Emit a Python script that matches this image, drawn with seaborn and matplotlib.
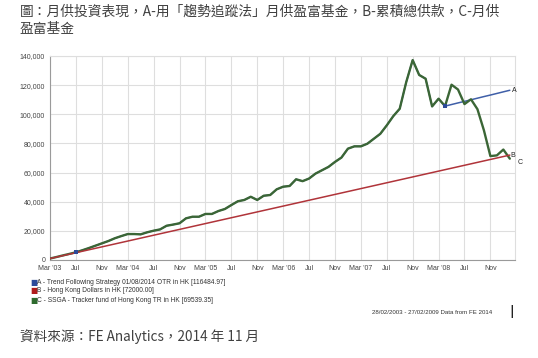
import numpy as np
import matplotlib
matplotlib.use('Agg')
import matplotlib.pyplot as plt
import seaborn as sns

# Month index 0 = Mar '03 ... 71 = Feb '09
months = list(range(72))

tick_pos = [0, 4, 8, 12, 16, 20, 24, 28, 32, 36, 40, 44, 48, 52, 56, 60, 64, 68]
tick_labels = ["Mar '03", 'Jul', 'Nov', "Mar '04", 'Jul', 'Nov', "Mar '05", 'Jul', 'Nov',
               "Mar '06", 'Jul', 'Nov', "Mar '07", 'Jul', 'Nov', "Mar '08", 'Jul', 'Nov']

# B - cumulative contributions (HK$1,000 a month)
b_values = [1000, 2000, 3000, 4000, 5000, 6000, 7000, 8000, 9000, 10000, 11000, 12000,
            13000, 14000, 15000, 16000, 17000, 18000, 19000, 20000, 21000, 22000, 23000, 24000,
            25000, 26000, 27000, 28000, 29000, 30000, 31000, 32000, 33000, 34000, 35000, 36000,
            37000, 38000, 39000, 40000, 41000, 42000, 43000, 44000, 45000, 46000, 47000, 48000,
            49000, 50000, 51000, 52000, 53000, 54000, 55000, 56000, 57000, 58000, 59000, 60000,
            61000, 62000, 63000, 64000, 65000, 66000, 67000, 68000, 69000, 70000, 71000, 72000]

# C - monthly saving into the Tracker Fund
c_values = [1000, 2050, 3150, 4200, 5300, 6700, 8200, 9800, 11400, 13000, 14900, 16400,
            17800, 17800, 17600, 19000, 20100, 21000, 23500, 24300, 25200, 28600, 29700, 29700,
            31600, 31600, 33600, 35000, 37700, 40300, 41200, 43400, 41200, 44100, 44600, 48500,
            50300, 50800, 55400, 54100, 55900, 59300, 61600, 63900, 67300, 70300, 76400, 78000,
            78000, 79800, 83200, 86600, 92400, 98700, 103800, 122000, 137200, 127000, 124400, 105400,
            110700, 105600, 120300, 117000, 107000, 110300, 103500, 89000, 71300, 71800, 75800, 69540]

# A - trend following: starts Jul '03, tracks C until it exits in Apr '08, then holds cash
a_start = 4
a_exit = 61
a_cash = [106700, 107800, 108850, 109950, 111050, 112150, 113200, 114300, 115400, 116485]
a_values = [np.nan] * a_start + c_values[a_start:a_exit + 1] + a_cash

legend_labels = ['A - Trend Following Strategy 01/08/2014 OTR in HK [116484.97]',
                 'B - Hong Kong Dollars in HK [72000.00]',
                 'C - SSGA - Tracker fund of Hong Kong TR in HK [69539.35]']

blue = '#3f5fa8'
red = '#b0343a'
green = '#3b6636'

sns.set_style('white')
plt.rcParams['font.family'] = ['Noto Sans CJK TC', 'DejaVu Sans']

fig = plt.figure(figsize=(5.38, 3.58), dpi=100)
ax = fig.add_axes([50 / 538, 1 - 260 / 358, 465 / 538, 204 / 358])

sns.lineplot(x=months, y=a_values, color=blue, linewidth=1.1, ax=ax, zorder=3)
sns.lineplot(x=months, y=c_values, color=green, linewidth=1.7, ax=ax, zorder=4)
sns.lineplot(x=months, y=b_values, color=red, linewidth=1.1, ax=ax, zorder=5)
sns.scatterplot(x=[months[a_start], months[a_exit]], y=[a_values[a_start], a_values[a_exit]],
                color='#2d4a99', marker='s', s=10, linewidth=0, ax=ax, zorder=6)

# end labels
lab_font = dict(family='Liberation Sans', fontsize=5, color='#222222')
ax.text(months[-1] + 0.4, a_values[-1], 'A', va='center', ha='left', **lab_font)
ax.text(months[-1] + 0.1, b_values[-1], 'B', va='center', ha='left', **lab_font)
ax.text(months[-1] + 1.2, c_values[-1] - 2500, 'C', va='center', ha='left', **lab_font)

ax.set_xlim(0, 71.8)
ax.set_ylim(0, 140000)
ax.set_xticks(tick_pos)
ax.set_xticklabels(tick_labels)
ax.set_yticks(range(0, 140001, 20000))
ax.set_yticklabels([f'{v:,}' for v in range(0, 140001, 20000)])
for lab in ax.get_xticklabels() + ax.get_yticklabels():
    lab.set_family('Liberation Sans')
    lab.set_fontsize(5)
    lab.set_color('#444444')
ax.tick_params(axis='both', length=2.5, width=0.6, color='#888888', pad=1)
ax.grid(True, color='#dedede', linewidth=0.8)
ax.set_axisbelow(True)
for side in ['top', 'right']:
    ax.spines[side].set_color('#dedede')
    ax.spines[side].set_linewidth(0.8)
for side in ['left', 'bottom']:
    ax.spines[side].set_color('#9a9a9a')
    ax.spines[side].set_linewidth(0.8)
ax.set_xlabel('')
ax.set_ylabel('')

# legend rows under the chart
leg_colors = ['#2b4a9b', '#b01c1c', '#2e6b2e']
for i, (lab, col) in enumerate(zip(legend_labels, leg_colors)):
    y = 1 - (282 + 9 * i) / 358
    fig.text(30 / 538, y, '\u25a0', color=col, fontsize=5.5, va='center', ha='left',
             family='DejaVu Sans')
    fig.text(37 / 538, y, lab, color='#333333', fontsize=4.8, va='center', ha='left',
             family='Liberation Sans')

fig.text(492 / 538, 1 - 313 / 358, '28/02/2003 - 27/02/2009 Data from FE 2014',
         color='#333333', fontsize=4.4, va='center', ha='right', family='Liberation Sans')
fig.text(509 / 538, 1 - 312 / 358, '|', color='#222222', fontsize=9, fontweight='bold',
         va='center', ha='left', family='DejaVu Sans')

# title and source
fig.text(20 / 538, 1 - 12 / 358, '圖：月供投資表現，A-用「趨勢追蹤法」月供盈富基金，B-累積總供款，C-月供',
         fontsize=9.9, color='#404040', va='center', ha='left')
fig.text(20 / 538, 1 - 29 / 358, '盈富基金', fontsize=9.9, color='#404040', va='center', ha='left')
fig.text(20 / 538, 1 - 337 / 358, '資料來源：FE Analytics，2014 年 11 月',
         fontsize=9.8, color='#404040', va='center', ha='left')

fig.savefig('out.png', dpi=100)
